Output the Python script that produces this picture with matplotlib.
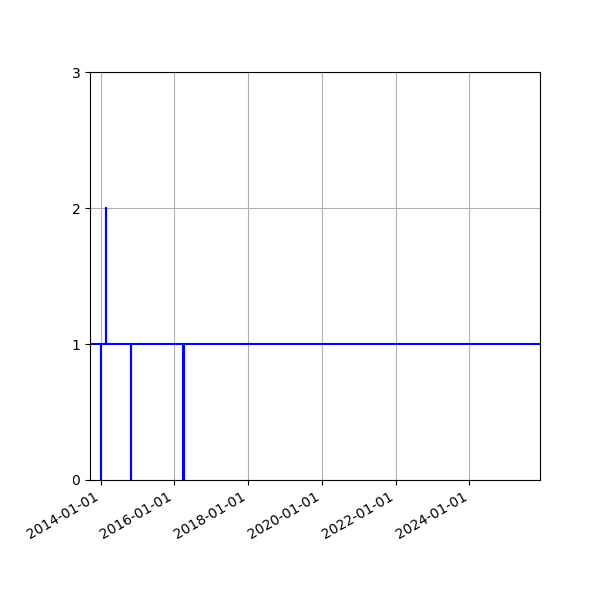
import matplotlib
matplotlib.use("Agg")
import matplotlib.pyplot as plt
import matplotlib.dates as mdates
import numpy as np

# change points of the count series (value holds until the next date)
DATES = [
    "2013-09-01", "2014-01-03", "2014-01-04", "2014-02-24", "2014-02-25",
    "2014-10-26", "2014-10-27", "2016-03-31", "2016-04-06", "2026-06-01",
]
VALUES = [1, 0, 1, 2, 1, 0, 1, 0, 1, 1]

X_START = "2013-09-17"
X_END = "2025-12-01"
Y_TICKS = [0, 1, 2, 3]

dates = np.array(DATES, dtype="datetime64[D]")

fig, ax = plt.subplots(figsize=(6, 6), dpi=100)
ax.step(dates, VALUES, where="post", color="blue", linewidth=1.5)

ax.set_xlim(np.datetime64(X_START), np.datetime64(X_END))
ax.set_ylim(Y_TICKS[0], Y_TICKS[-1])
ax.set_yticks(Y_TICKS)
ax.xaxis.set_major_locator(mdates.YearLocator(2))
ax.xaxis.set_major_formatter(mdates.DateFormatter("%Y-%m-%d"))
ax.grid(True)

fig.autofmt_xdate()
fig.subplots_adjust(left=0.15, right=0.9, top=0.88, bottom=0.2)
fig.savefig("out.png", dpi=100)
